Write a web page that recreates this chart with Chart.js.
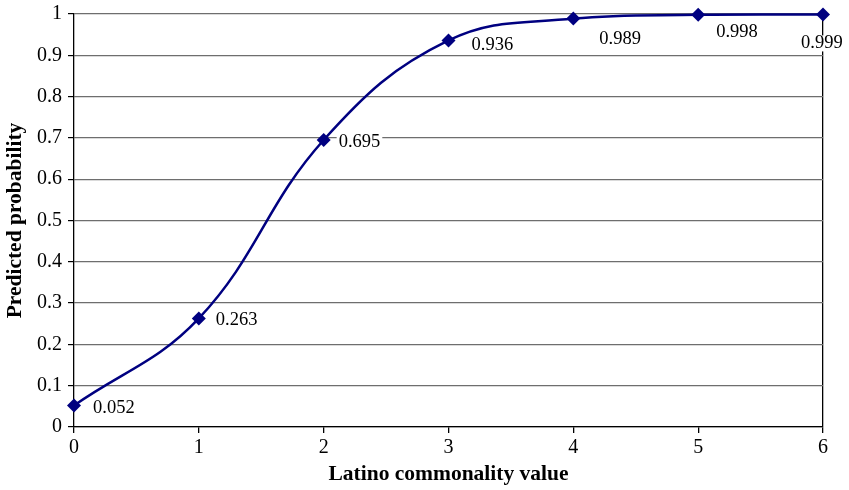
<!DOCTYPE html>
<html>
<head>
<meta charset="utf-8">
<script src="https://cdn.jsdelivr.net/npm/chart.js@4/dist/chart.umd.min.js"></script>
<style>
  html, body { margin: 0; padding: 0; background: #fff; }
  #wrap { width: 849px; height: 490px; position: relative; }
</style>
</head>
<body>
<div id="wrap"><canvas id="c" width="849" height="490"></canvas></div>
<script>
// Latino commonality value (x) and predicted probability (y)
const commonality = [0, 1, 2, 3, 4, 5, 6];
const probability = [0.052, 0.263, 0.695, 0.936, 0.989, 0.998, 0.999];
const xTickLabels = ['0', '1', '2', '3', '4', '5', '6'];
const yTickLabels = ['0', '0.1', '0.2', '0.3', '0.4', '0.5', '0.6', '0.7', '0.8', '0.9', '1'];

const SERIF = '"Liberation Serif", "Times New Roman", serif';
const NAVY = '#000080';

// Value labels: left-aligned text, offset from each marker (dx, dy in px)
const labelOffsets = [[19, 3], [17, 2], [15, 2], [23, 4.5], [26, 20.5], [18, 17], [-22, 29]];

const valueLabels = {
  id: 'valueLabels',
  afterDatasetsDraw(chart) {
    const ctx = chart.ctx;
    const meta = chart.getDatasetMeta(0);
    ctx.save();
    ctx.font = '18.5px ' + SERIF;
    ctx.textAlign = 'left';
    ctx.textBaseline = 'middle';
    meta.data.forEach((pt, i) => {
      const txt = String(probability[i]);
      const [dx, dy] = labelOffsets[i];
      const x = pt.x + dx, y = pt.y + dy;
      const w = ctx.measureText(txt).width;
      ctx.fillStyle = '#fff';
      ctx.fillRect(x - 2, y - 8, w + 4, 16);
      ctx.fillStyle = '#000';
      ctx.fillText(txt, x, y);
    });
    ctx.restore();
  }
};

new Chart(document.getElementById('c'), {
  type: 'line',
  data: {
    datasets: [{
      data: commonality.map((x, i) => ({ x, y: probability[i] })),
      borderColor: NAVY,
      backgroundColor: NAVY,
      borderWidth: 2.5,
      tension: 0.4,
      pointStyle: 'rectRot',
      pointRadius: 7,
      pointHoverRadius: 7,
      pointBackgroundColor: NAVY,
      pointBorderColor: NAVY,
      pointBorderWidth: 0,
      clip: false
    }]
  },
  options: {
    responsive: false,
    animation: false,
    events: [],
    layout: { padding: { top: 14, right: 26, left: 0, bottom: 0 } },
    plugins: {
      legend: { display: false },
      tooltip: { enabled: false }
    },
    scales: {
      x: {
        type: 'linear',
        min: 0,
        max: 6,
        afterBuildTicks(scale) {
          scale.ticks = commonality.map(v => ({ value: v }));
        },
        afterFit(scale) {
          scale.height = 63;
          scale.paddingLeft = 0;
          scale.paddingRight = 0;
        },
        border: { color: '#000', width: 1.3 },
        grid: {
          drawOnChartArea: true,
          color: c => (c.tick && c.tick.value === 6 ? '#000' : 'rgba(0,0,0,0)'),
          lineWidth: 1.3,
          tickColor: '#000',
          tickLength: 6
        },
        ticks: {
          padding: 3,
          color: '#000',
          font: { family: SERIF, size: 20 },
          callback: (v) => xTickLabels[commonality.indexOf(v)]
        },
        title: {
          display: true,
          text: 'Latino commonality value',
          color: '#000',
          font: { family: SERIF, size: 21.5, weight: 'bold' },
          padding: { top: 4, bottom: 3 }
        }
      },
      y: {
        type: 'linear',
        min: 0,
        max: 1,
        afterBuildTicks(scale) {
          scale.ticks = yTickLabels.map(l => ({ value: parseFloat(l) }));
        },
        afterFit(scale) {
          scale.width = 74;
          scale.paddingTop = 0;
          scale.paddingBottom = 0;
        },
        border: { color: '#000', width: 1.3 },
        grid: {
          color: '#6e6e6e',
          lineWidth: 1.2,
          tickColor: '#000',
          tickLength: 6
        },
        ticks: {
          padding: 6,
          color: '#000',
          font: { family: SERIF, size: 20 },
          callback: (v) => yTickLabels[Math.round(v * 10)]
        },
        title: {
          display: true,
          text: 'Predicted probability',
          color: '#000',
          font: { family: SERIF, size: 21.5, weight: 'bold' },
          padding: { top: 3, bottom: 0 }
        }
      }
    }
  },
  plugins: [valueLabels]
});
</script>
</body>
</html>
